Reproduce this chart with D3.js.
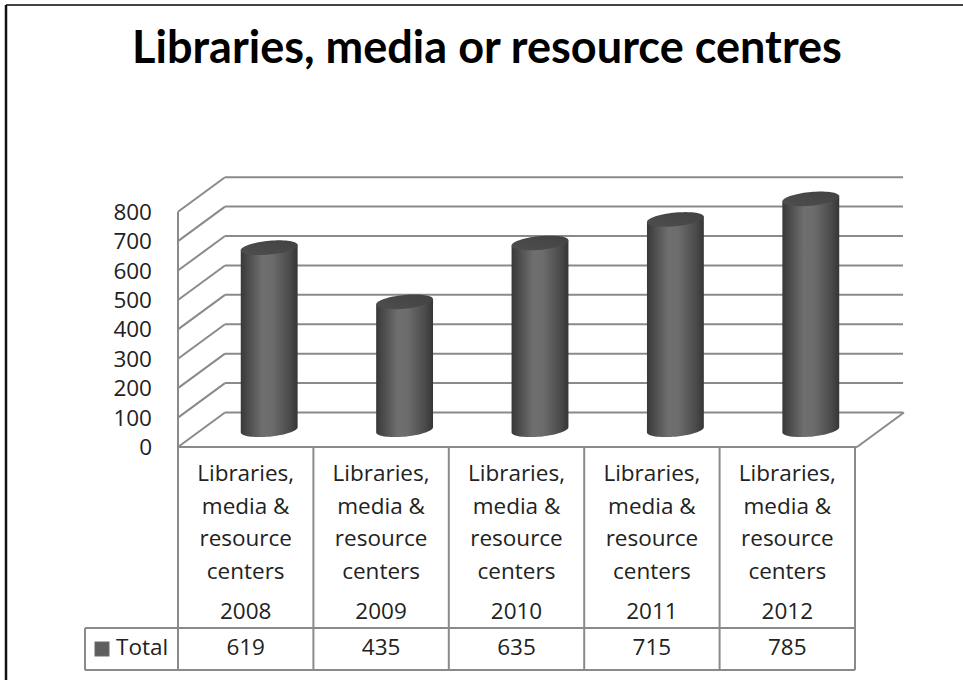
<!DOCTYPE html>
<html>
<head>
<meta charset="utf-8">
<script src="https://cdn.jsdelivr.net/npm/d3@7/dist/d3.min.js"></script>
<style>
  html, body { margin: 0; padding: 0; background: #fff; }
  svg { display: block; }
</style>
</head>
<body>
<svg id="chart" width="963" height="680"></svg>
<script>
// ---- data ----
const years = ["2008", "2009", "2010", "2011", "2012"];
const categoryLines = ["Libraries,", "media &", "resource", "centers"];
const totals = [619, 435, 635, 715, 785];
const seriesName = "Total";
const yTicks = [0, 100, 200, 300, 400, 500, 600, 700, 800];
const titleText = "Libraries, media or resource centres";

// ---- layout ----
const W = 963, H = 680;
const svg = d3.select("#chart");
const fontBody = "'Open Sans', 'DejaVu Sans', sans-serif";
const bodySize = 22.5;
const gridColor = "#8a8a8a";

const floorY = 447;                 // front edge of the floor
const left = 178, right = 855;      // front plane x extent
const depth = { x: 47, y: -34.5 };  // oblique depth vector of the walls

const x = d3.scaleBand().domain(years).range([left, right]).paddingInner(0).paddingOuter(0);
const y = d3.scaleLinear().domain([0, 800]).range([floorY, floorY - 235.3]);

// page frame (top and left edges)
svg.append("line").attr("x1", 6).attr("x2", W).attr("y1", 5).attr("y2", 5)
  .attr("stroke", "#444").attr("stroke-width", 2);
svg.append("line").attr("x1", 6).attr("x2", 6).attr("y1", 5).attr("y2", H)
  .attr("stroke", "#111").attr("stroke-width", 2.5);

// title, sized to span its line
const title = svg.append("text")
  .attr("x", 487).attr("y", 63)
  .attr("text-anchor", "middle")
  .attr("font-family", "Lato, 'Open Sans', sans-serif")
  .attr("font-weight", "bold")
  .attr("font-size", 40)
  .attr("fill", "#000")
  .text(titleText);
{
  const len = title.node().getComputedTextLength();
  title.attr("font-size", 40 * 710 / len);
}

// ---- walls & gridlines ----
const walls = svg.append("g").attr("fill", "none").attr("stroke", gridColor).attr("stroke-width", 2);

// back wall gridlines
yTicks.forEach(t => {
  walls.append("line")
    .attr("x1", left + depth.x).attr("x2", right + depth.x + 1)
    .attr("y1", y(t) + depth.y).attr("y2", y(t) + depth.y);
  // side wall diagonals
  walls.append("line")
    .attr("x1", left).attr("y1", y(t))
    .attr("x2", left + depth.x).attr("y2", y(t) + depth.y);
});
// side wall front edge
walls.append("line").attr("x1", left).attr("x2", left)
  .attr("y1", y(800)).attr("y2", floorY);
// floor front edge and right diagonal
walls.append("line").attr("x1", left).attr("x2", right + 2)
  .attr("y1", floorY).attr("y2", floorY);
walls.append("line").attr("x1", right + 2).attr("y1", floorY)
  .attr("x2", right + 2 + depth.x).attr("y2", floorY + depth.y);

// y axis labels
svg.append("g").selectAll("text").data(yTicks).join("text")
  .attr("x", 152).attr("y", d => y(d) + 2)
  .attr("text-anchor", "end")
  .attr("dominant-baseline", "middle")
  .attr("font-family", fontBody).attr("font-size", bodySize)
  .attr("fill", "#222")
  .text(d => d);

// ---- cylinders ----
const defs = svg.append("defs");
const grad = defs.append("linearGradient").attr("id", "cylBody")
  .attr("x1", "0%").attr("x2", "100%").attr("y1", "0%").attr("y2", "0%");
[["0%", "#383838"], ["12%", "#4a4a4a"], ["38%", "#6f6f6f"], ["55%", "#6c6c6c"],
 ["85%", "#4c4c4c"], ["100%", "#363636"]].forEach(([o, c]) =>
  grad.append("stop").attr("offset", o).attr("stop-color", c));
const gradTop = defs.append("linearGradient").attr("id", "cylTop")
  .attr("x1", "0%").attr("x2", "100%").attr("y1", "100%").attr("y2", "0%");
[["0%", "#4e4e4e"], ["100%", "#424242"]].forEach(([o, c]) =>
  gradTop.append("stop").attr("offset", o).attr("stop-color", c));

const halfW = x.bandwidth() * 0.21;        // silhouette half-width
const dk = 0.213;                           // depth radius as a share of wall depth
const dr = { x: depth.x * dk, y: depth.y * dk };
const r = Math.sqrt(halfW * halfW - dr.x * dr.x);
const th0 = Math.atan2(dr.x, r);

function pt(cx, cy, th) {
  return [cx + r * Math.cos(th) + dr.x * Math.sin(th), cy + dr.y * Math.sin(th)];
}
function ellipsePath(cx, cy) {
  const pts = d3.range(0, 73).map(i => pt(cx, cy, i / 72 * 2 * Math.PI));
  return d3.line()(pts) + "Z";
}
function bodyPath(cx, cyTop, cyBot) {
  const pts = [pt(cx, cyTop, th0 + Math.PI), pt(cx, cyTop, th0)];
  d3.range(0, 37).forEach(i => pts.push(pt(cx, cyBot, th0 - i / 36 * Math.PI)));
  return d3.line()(pts) + "Z";
}

const cyl = svg.append("g").selectAll("g").data(years.map((yr, i) => ({ yr, v: totals[i] })))
  .join("g");
cyl.each(function (d) {
  const g = d3.select(this);
  const cx = x(d.yr) + x.bandwidth() / 2 + depth.x / 2;
  const cyBot = y(0) + depth.y / 2;
  const cyTop = y(d.v) + depth.y / 2;
  g.append("path").attr("d", bodyPath(cx, cyTop, cyBot)).attr("fill", "url(#cylBody)");
  g.append("path").attr("d", ellipsePath(cx, cyTop)).attr("fill", "url(#cylTop)");
});

// ---- data table ----
const rowTop = floorY, headBottom = 628, tableBottom = 670, legendLeft = 85;
const tbl = svg.append("g").attr("stroke", gridColor).attr("stroke-width", 2).attr("fill", "none");
tbl.append("line").attr("x1", legendLeft).attr("x2", right).attr("y1", headBottom).attr("y2", headBottom);
tbl.append("line").attr("x1", legendLeft).attr("x2", right).attr("y1", tableBottom).attr("y2", tableBottom);
tbl.append("line").attr("x1", legendLeft).attr("x2", legendLeft).attr("y1", headBottom).attr("y2", tableBottom);
const edges = years.map(yr => x(yr)).concat([right]);
edges.forEach(ex => tbl.append("line").attr("x1", ex).attr("x2", ex).attr("y1", rowTop).attr("y2", tableBottom));

const lineYs = [475, 508, 540, 573];
const head = svg.append("g").attr("font-family", fontBody).attr("font-size", bodySize)
  .attr("fill", "#222").attr("text-anchor", "middle").attr("dominant-baseline", "middle");
years.forEach((yr, i) => {
  const cx = x(yr) + x.bandwidth() / 2;
  categoryLines.forEach((s, j) => head.append("text").attr("x", cx).attr("y", lineYs[j]).text(s));
  head.append("text").attr("x", cx).attr("y", 613).text(yr);
  head.append("text").attr("x", cx).attr("y", 649).text(totals[i]);
});

// legend key
svg.append("rect").attr("x", 95).attr("y", 642).attr("width", 14).attr("height", 14)
  .attr("fill", "#5e5e5e").attr("stroke", "#6a6a6a");
svg.append("text").attr("x", 116).attr("y", 649)
  .attr("dominant-baseline", "middle")
  .attr("font-family", fontBody).attr("font-size", bodySize).attr("fill", "#222")
  .text(seriesName);
</script>
</body>
</html>
